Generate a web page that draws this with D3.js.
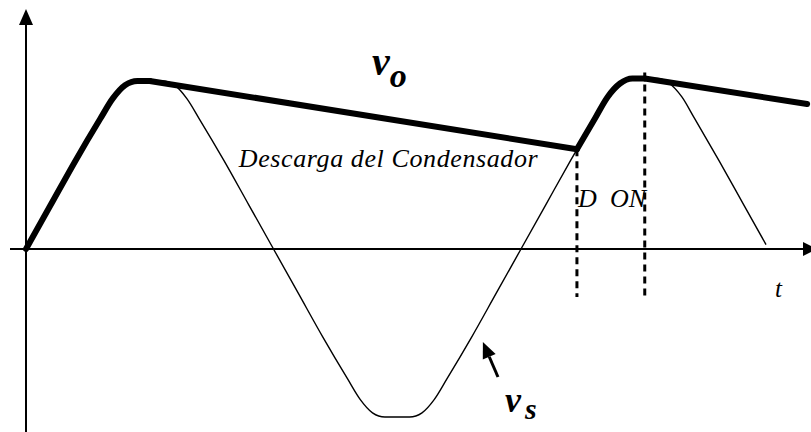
<!DOCTYPE html>
<html>
<head>
<meta charset="utf-8">
<script src="https://cdn.jsdelivr.net/npm/d3@7"></script>
<style>
  body { margin: 0; background: #fff; }
  text { font-family: "Liberation Serif", "Times New Roman", serif; fill: #000; }
</style>
</head>
<body>
<div id="chart"></div>
<script>
// Tensión de la fuente v_s (t en ms, v en V)
const tVs = [0, 1, 2, 3, 3.5, 4, 4.5, 5, 5.5, 6, 6.5, 7, 8, 9, 10,
             11, 12, 13, 13.5, 14, 14.5, 15, 15.5, 16, 16.5, 17, 18, 19, 20,
             21, 22, 23, 23.5, 24, 24.5, 25, 25.5, 26, 26.5, 27, 28, 29, 29.9];
const vVs = [0, 2.63, 5.26, 7.75, 8.95, 9.75, 10, 10, 10, 9.75, 8.95, 7.75, 5.26, 2.63, 0,
             -2.63, -5.26, -7.75, -8.95, -9.75, -10, -10, -10, -9.75, -8.95, -7.75, -5.26, -2.63, 0,
             2.63, 5.26, 7.8, 9.05, 9.85, 10.15, 10.15, 10.15, 9.85, 9.05, 7.8, 5.26, 2.63, 0.26];

// Descarga del condensador (tramos rectos de v_o)
const tDecayStart = [5, 25];
const vDecayStart = [10, 10.15];
const tDecayEnd = [22.26, 31.56];
const vDecayEnd = [5.94, 8.63];

// Diodo en conducción (líneas discontinuas)
const tDiode = [22.26, 25];
const vDiodeTop = [5.94, 10.5];
const vDiodeBottom = -2.85;

const width = 811, height = 432;

const svg = d3.select("#chart")
    .append("svg")
    .attr("width", width)
    .attr("height", height);

const x = d3.scaleLinear().domain([0, 20]).range([26, 521]);
const y = d3.scaleLinear().domain([-10, 10]).range([417, 81]);

const vs = tVs.map((t, i) => ({ t: t, v: vVs[i] }));

const line = d3.line()
    .x(d => x(d.t))
    .y(d => y(d.v))
    .curve(d3.curveMonotoneX);

// ejes
svg.append("line")
    .attr("x1", 10).attr("x2", 806)
    .attr("y1", y(0)).attr("y2", y(0))
    .attr("stroke", "#000").attr("stroke-width", 2);
svg.append("path")
    .attr("d", `M ${817} ${y(0)} L ${803} ${y(0) - 7} L ${803} ${y(0) + 7} Z`)
    .attr("fill", "#000");

svg.append("line")
    .attr("x1", x(0)).attr("x2", x(0))
    .attr("y1", height).attr("y2", 22)
    .attr("stroke", "#000").attr("stroke-width", 2);
svg.append("path")
    .attr("d", `M ${x(0)} 9 L ${x(0) - 7} 25 L ${x(0) + 7} 25 Z`)
    .attr("fill", "#000");

// v_s
svg.append("path")
    .datum(vs)
    .attr("d", line)
    .attr("fill", "none")
    .attr("stroke", "#000")
    .attr("stroke-width", 1.4);

// líneas discontinuas
svg.selectAll(".diode")
    .data(tDiode)
    .enter()
    .append("line")
    .attr("class", "diode")
    .attr("x1", d => x(d)).attr("x2", d => x(d))
    .attr("y1", (d, i) => y(vDiodeTop[i]))
    .attr("y2", y(vDiodeBottom))
    .attr("stroke", "#000")
    .attr("stroke-width", 3)
    .attr("stroke-dasharray", "7,5");

// v_o: tramos de carga (siguen a v_s) y de descarga (rectos)
const charge1 = vs.filter(d => d.t <= tDecayStart[0]);
const charge2 = [{ t: tDecayEnd[0], v: vDecayEnd[0] }]
    .concat(vs.filter(d => d.t > tDecayEnd[0] && d.t <= tDecayStart[1]));

[charge1, charge2].forEach(seg => {
    svg.append("path")
        .datum(seg)
        .attr("d", line)
        .attr("fill", "none")
        .attr("stroke", "#000")
        .attr("stroke-width", 6)
        .attr("stroke-linecap", "round")
        .attr("stroke-linejoin", "round");
});

tDecayStart.forEach((t, i) => {
    svg.append("line")
        .attr("x1", x(t)).attr("y1", y(vDecayStart[i]))
        .attr("x2", x(tDecayEnd[i])).attr("y2", y(vDecayEnd[i]))
        .attr("stroke", "#000")
        .attr("stroke-width", 6)
        .attr("stroke-linecap", "round");
});

// textos
const vo = svg.append("text")
    .attr("x", x(13.98))
    .attr("y", y(10.36))
    .style("font-size", "40px")
    .style("font-weight", "bold")
    .style("font-style", "italic");
vo.append("tspan").text("v");
vo.append("tspan").attr("dy", 12).style("font-size", "34px").text("o");

svg.append("text")
    .attr("x", x(8.6))
    .attr("y", y(4.88))
    .style("font-size", "26px")
    .style("font-style", "italic")
    .style("letter-spacing", "0.6px")
    .text("Descarga del Condensador");

svg.append("text")
    .attr("x", x(22.3))
    .attr("y", y(2.5))
    .style("font-size", "26px")
    .style("font-style", "italic")
    .text("D");
svg.append("text")
    .attr("x", x(23.6))
    .attr("y", y(2.5))
    .style("font-size", "26px")
    .style("font-style", "italic")
    .text("ON");

svg.append("text")
    .attr("x", x(30.26))
    .attr("y", y(-2.86))
    .style("font-size", "25px")
    .style("font-style", "italic")
    .text("t");

const vsLabel = svg.append("text")
    .attr("x", x(19.35))
    .attr("y", y(-9.7))
    .style("font-size", "36px")
    .style("font-weight", "bold")
    .style("font-style", "italic");
vsLabel.append("tspan").text("v");
vsLabel.append("tspan").attr("dx", 4).attr("dy", 7).style("font-size", "30px").text("s");

// flecha hacia v_s
const tip = [x(18.46), y(-5.54)], tail = [x(19.07), y(-7.62)];
const ang = Math.atan2(tip[1] - tail[1], tip[0] - tail[0]);
const headLen = 16, headW = 7;
const bx = tip[0] - headLen * Math.cos(ang), by = tip[1] - headLen * Math.sin(ang);
svg.append("line")
    .attr("x1", tail[0]).attr("y1", tail[1])
    .attr("x2", bx).attr("y2", by)
    .attr("stroke", "#000").attr("stroke-width", 3);
svg.append("path")
    .attr("d", `M ${tip[0]} ${tip[1]}
                L ${bx + headW * Math.sin(ang)} ${by - headW * Math.cos(ang)}
                L ${bx - headW * Math.sin(ang)} ${by + headW * Math.cos(ang)} Z`)
    .attr("fill", "#000");
</script>
</body>
</html>
